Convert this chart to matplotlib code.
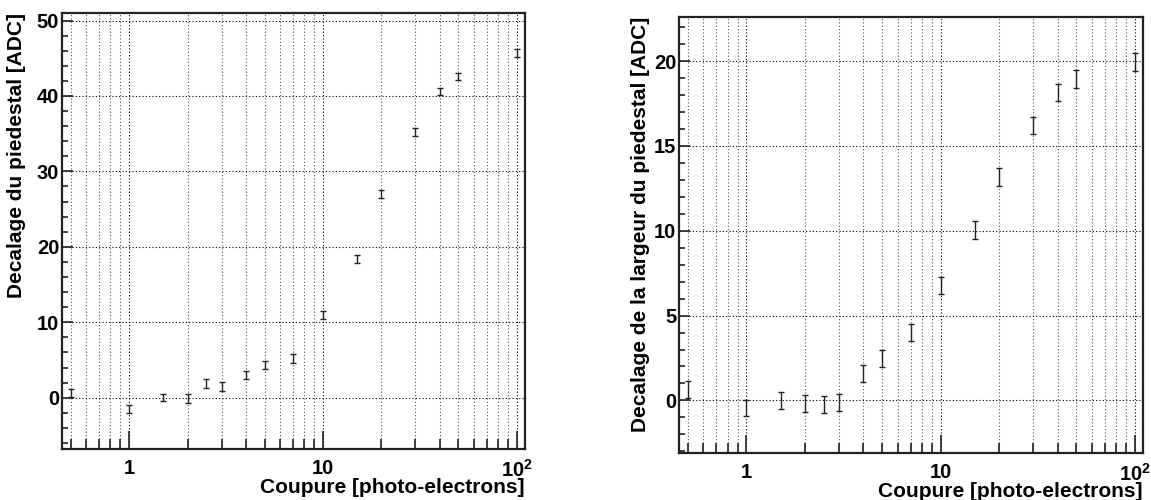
import matplotlib.pyplot as plt
import numpy
from matplotlib.ticker import FixedLocator, MultipleLocator, LogLocator, NullFormatter

plt.rcParams['font.family'] = ['Liberation Sans', 'DejaVu Sans']
plt.rcParams['font.weight'] = 'bold'
plt.rcParams['mathtext.fontset'] = 'custom'
plt.rcParams['mathtext.bf'] = 'Liberation Sans:bold'
plt.rcParams['mathtext.rm'] = 'Liberation Sans:bold'

# cut values (photo-electrons)
cuts = [0.5, 1, 1.5, 2, 2.5, 3, 4, 5, 7, 10, 15, 20, 30, 40, 50, 100]

# pedestal shift [ADC]
shift = [0.6, -1.5, 0.0, -0.1, 1.9, 1.5, 3.0, 4.3, 5.2, 11.0, 18.4, 27.0, 35.2, 40.6, 42.6, 45.7]
shift_err = [0.55, 0.57, 0.5, 0.55, 0.55, 0.55, 0.55, 0.55, 0.55, 0.55, 0.5, 0.5, 0.5, 0.5, 0.5, 0.53]

# pedestal width shift [ADC]
width = [0.65, -0.47, -0.02, -0.2, -0.22, -0.1, 1.59, 2.47, 4.0, 6.78, 10.04, 13.16, 16.2, 18.17, 18.94, 19.95]
width_err = [0.51, 0.47, 0.49, 0.51, 0.5, 0.5, 0.49, 0.52, 0.52, 0.5, 0.51, 0.51, 0.51, 0.51, 0.51, 0.52]

xlabels = ['1', '10', r'$\mathbf{10^{2}}$']

fig = plt.figure(figsize=(11.51, 5.0), dpi=100)
ax1 = fig.add_axes([0.0539, 0.102, 0.402, 0.872])
ax2 = fig.add_axes([0.590, 0.094, 0.403, 0.872])


def style(ax, ylim, ymajor, yminor, ylabel, lab_x):
    ax.set_xscale('log')
    ax.set_xlim(0.45, 110)
    ax.set_ylim(*ylim)
    ax.xaxis.set_major_locator(FixedLocator([1, 10, 100]))
    ax.xaxis.set_minor_locator(LogLocator(base=10, subs=numpy.arange(2, 10) * 1.0, numticks=20))
    ax.xaxis.set_minor_formatter(NullFormatter())
    ax.set_xticklabels(xlabels)
    ax.yaxis.set_major_locator(MultipleLocator(ymajor))
    ax.yaxis.set_minor_locator(MultipleLocator(yminor))
    ax.tick_params(which='both', direction='in', top=False, right=False,
                   labelsize=14.5, width=1.2, color='#222222')
    ax.tick_params(axis='x', which='major', length=13, pad=7)
    ax.tick_params(axis='x', which='minor', length=7)
    ax.tick_params(axis='y', which='major', length=8, pad=2)
    ax.tick_params(axis='y', which='minor', length=4)
    ax.grid(True, which='major', linestyle=(0, (1, 2)), color='black', linewidth=0.8)
    ax.grid(True, which='minor', axis='x', linestyle=(0, (1, 2)), color='#555555', linewidth=0.8)
    for s in ax.spines.values():
        s.set_linewidth(1.6)
        s.set_color('#222222')
    ax.set_xlabel('Coupure [photo-electrons]', fontsize=15, fontweight='bold', loc='right', labelpad=-2)
    ax.set_ylabel(ylabel, fontsize=15, fontweight='bold', loc='top')
    ax.yaxis.set_label_coords(lab_x, 1.0)


ax1.errorbar(cuts, shift, yerr=shift_err, fmt='none', ecolor='#222222', elinewidth=1, capsize=2.5, capthick=1)
ax2.errorbar(cuts, width, yerr=width_err, fmt='none', ecolor='#222222', elinewidth=1, capsize=2.5, capthick=1)

style(ax1, (-6.8, 51), 10, 2, 'Decalage du piedestal [ADC]', -0.078)
style(ax2, (-3.1, 22.6), 5, 1, 'Decalage de la largeur du piedestal [ADC]', -0.062)

fig.savefig('out.png', dpi=100)
